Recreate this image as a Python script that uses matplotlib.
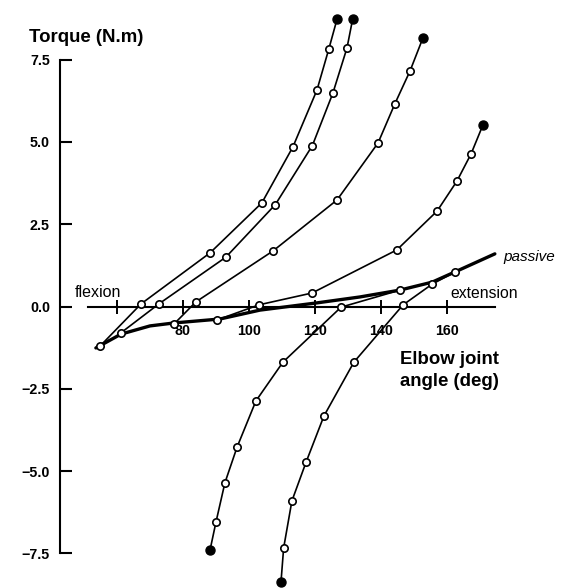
import matplotlib
matplotlib.use("Agg")
import matplotlib.pyplot as plt

plt.rcParams['font.family'] = ['Liberation Sans', 'DejaVu Sans']

# ---- data (angle in deg, torque in N.m) ----
curve_a_x = [54.9, 67.3, 88.2, 103.9, 113.3, 120.6, 124.2, 126.7]
curve_a_y = [-1.20, 0.08, 1.63, 3.15, 4.85, 6.58, 7.83, 8.74]
curve_b_x = [61.2, 72.7, 93.0, 108.0, 119.2, 125.4, 129.7, 131.4]
curve_b_y = [-0.80, 0.08, 1.50, 3.10, 4.89, 6.48, 7.86, 8.73]
curve_c_x = [77.3, 83.9, 107.3, 126.7, 139.1, 144.2, 148.8, 152.7]
curve_c_y = [-0.53, 0.14, 1.69, 3.24, 4.97, 6.16, 7.16, 8.16]
curve_d_x = [90.3, 103.0, 119.1, 144.8, 157.0, 163.0, 167.3, 170.9]
curve_d_y = [-0.41, 0.05, 0.41, 1.72, 2.90, 3.81, 4.64, 5.52]
curve_e_x = [145.8, 127.9, 110.3, 102.1, 96.4, 92.7, 90.0, 88.2]
curve_e_y = [0.50, -0.02, -1.69, -2.87, -4.27, -5.36, -6.55, -7.40]
curve_f_x = [162.4, 155.5, 146.7, 131.8, 122.7, 117.3, 113.0, 110.5, 109.7]
curve_f_y = [1.05, 0.68, 0.05, -1.69, -3.33, -4.73, -5.91, -7.34, -8.37]
passive_x = [53.6, 61.2, 70.0, 77.3, 91.2, 103.3, 120.6, 133.6, 145.8, 155.5, 162.4, 174.5]
passive_y = [-1.26, -0.84, -0.59, -0.50, -0.38, -0.11, 0.11, 0.29, 0.50, 0.74, 1.05, 1.60]

x_ticks = [60, 80, 100, 120, 140, 160]
x_tick_labels = ['', '80', '100', '120', '140', '160']
y_ticks = [-7.5, -5.0, -2.5, 0.0, 2.5, 5.0, 7.5]
y_tick_labels = ['\u22127.5', '\u22125.0', '\u22122.5', '0.0', '2.5', '5.0', '7.5']

curves = [(curve_a_x, curve_a_y), (curve_b_x, curve_b_y), (curve_c_x, curve_c_y),
          (curve_d_x, curve_d_y), (curve_e_x, curve_e_y), (curve_f_x, curve_f_y)]

W, H = 562, 588
fig = plt.figure(figsize=(W / 100, H / 100), dpi=100)
ax = fig.add_axes([0, 0, 1, 1])
ax.set_xlim(24.55, 194.85)
ax.set_ylim(-8.556, 9.316)
ax.patch.set_alpha(0)

# passive curve
ax.plot(passive_x, passive_y, color='black', lw=2.4, solid_capstyle='round', zorder=3)

for xs, ys in curves:
    ax.plot(xs, ys, color='black', lw=1.2, marker='o', markersize=5.3,
            markerfacecolor='white', markeredgecolor='black', markeredgewidth=1.2,
            markevery=list(range(len(xs) - 1)), zorder=4)
    ax.plot(xs[-1:], ys[-1:], linestyle='none', marker='o', markersize=6.5,
            color='black', zorder=5)

# spines
for s in ['top', 'right']:
    ax.spines[s].set_visible(False)
ax.spines['left'].set_position(('data', 42.73))
ax.spines['left'].set_bounds(-7.5, 7.5)
ax.spines['bottom'].set_position(('data', 0))
ax.spines['bottom'].set_bounds(51.2, 174.5)
ax.spines['left'].set_linewidth(1.5)
ax.spines['bottom'].set_linewidth(1.5)

ax.set_xticks(x_ticks)
ax.set_xticklabels(x_tick_labels, fontweight='bold')
ax.set_yticks(y_ticks)
ax.set_yticklabels(y_tick_labels, fontweight='bold')
ax.tick_params(axis='x', direction='inout', length=9.4, width=1.4, pad=8.0,
               labelsize=10.3)
ax.tick_params(axis='y', direction='in', length=8.4, width=1.5, pad=7.2,
               labelsize=10.3)
for lab in ax.get_xticklabels():
    lab.set_zorder(1)

def fx(px):
    return px / W

def fy(py):
    return 1 - py / H

fig.text(fx(29), fy(37), 'Torque (N.m)', fontsize=13.4, fontweight='bold',
         ha='left', va='center')
fig.text(fx(75), fy(297), 'flexion', fontsize=11.5, ha='left', va='baseline')
fig.text(fx(450), fy(298), 'extension', fontsize=11.3, ha='left', va='baseline')
fig.text(fx(503), fy(260.5), 'passive', fontsize=11, style='italic',
         ha='left', va='baseline')
fig.text(fx(449), fy(364), 'Elbow joint', fontsize=13.4, fontweight='bold',
         ha='center', va='baseline')
fig.text(fx(449), fy(386), 'angle (deg)', fontsize=13.4, fontweight='bold',
         ha='center', va='baseline')

fig.savefig('out.png', dpi=100)
